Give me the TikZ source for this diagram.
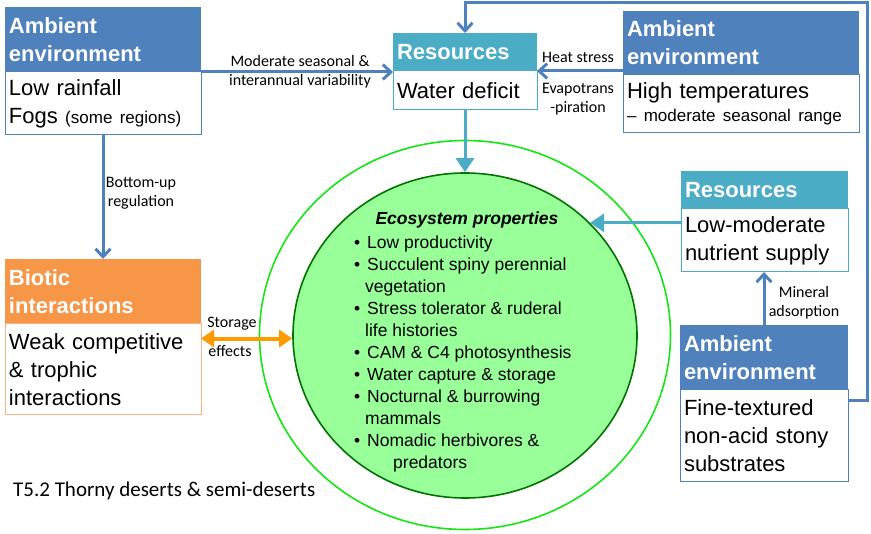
\documentclass[tikz,border=0pt]{standalone}
\usepackage{fontspec}
\setmainfont{Liberation Sans}
\newfontfamily\calibri{Carlito}
\usetikzlibrary{positioning,shapes.geometric,arrows.meta}

\definecolor{ambblue}{RGB}{79,129,189}
\definecolor{resteal}{RGB}{75,172,198}
\definecolor{bioorange}{RGB}{247,150,70}
\definecolor{bioline}{RGB}{250,180,130}
\definecolor{arroworange}{RGB}{255,153,0}
\definecolor{halogreen}{RGB}{20,230,20}
\definecolor{propfill}{RGB}{153,255,153}
\definecolor{propedge}{RGB}{0,115,0}

\tikzstyle{header} = [rectangle, anchor=north west, outer sep=0pt, inner xsep=4pt, inner ysep=0pt, align=left, text=white, font=\fontsize{22}{28}\selectfont\bfseries]
\tikzstyle{body} = [rectangle, draw, line width=1pt, fill=white, outer sep=0pt, inner xsep=4pt, inner ysep=0pt, align=left, font=\fontsize{22}{28}\selectfont]
\tikzstyle{note} = [align=center, inner sep=0pt, font=\calibri\fontsize{16}{19}\selectfont]
\tikzstyle{arrow} = [line width=3pt, ambblue, -{Straight Barb[length=8pt,width=15pt]}]
\tikzstyle{tarrow} = [line width=3pt, resteal, -{Triangle[length=14pt,width=18pt]}]
\tikzstyle{darrow} = [line width=4pt, arroworange, {Triangle[length=13pt,width=17pt]}-{Triangle[length=13pt,width=17pt]}]

\newcommand{\bul}{\makebox[13pt][l]{\textbullet}}

\begin{document}
\begin{tikzpicture}[x=1pt, y=-1pt]
    \useasboundingbox (0,0) rectangle (871,534);

    % Circles
    \node (halo) [ellipse, draw=halogreen, line width=1.6pt, minimum width=411pt, minimum height=389pt] at (465,335) {};
    \node (props) [ellipse, draw=propedge, fill=propfill, line width=1.6pt, minimum width=344pt, minimum height=325pt] at (465,335.5) {};
    \node (propsTitle) [anchor=base, inner sep=0pt, font=\fontsize{17.5}{22}\selectfont\bfseries\itshape] at (467,225) {Ecosystem properties};
    \node (propsList) [anchor=north west, align=left, inner sep=0pt, font=\fontsize{17.5}{22}\selectfont] at (354,236) {\bul Low productivity\\
        \bul Succulent spiny perennial\\
        \hspace*{11pt}vegetation\\
        \bul Stress tolerator \& ruderal\\
        \hspace*{11pt}life histories\\
        \bul CAM \& C4 photosynthesis\\
        \bul Water capture \& storage\\
        \bul Nocturnal \& burrowing\\
        \hspace*{11pt}mammals\\
        \bul Nomadic herbivores \&\\
        \hspace*{39pt}predators};

    % Boxes
    \node (ambLhead) [header, fill=ambblue, minimum width=196pt, text width=188pt, minimum height=65pt] at (5,7) {Ambient\\environment};
    \node (ambLbody) [body, draw=ambblue, below right=0pt and 0pt of ambLhead.south west, minimum width=196pt, text width=188pt, minimum height=63pt] {Low rainfall\\Fogs {\fontsize{17}{20}\selectfont(some regions)}};

    \node (resWhead) [header, fill=resteal, minimum width=144pt, text width=136pt, minimum height=38pt] at (393,33) {Resources};
    \node (resWbody) [body, draw=resteal, below right=0pt and 0pt of resWhead.south west, minimum width=144pt, text width=136pt, minimum height=39pt] {Water deficit};

    \node (ambRhead) [header, fill=ambblue, minimum width=236pt, text width=228pt, minimum height=64pt] at (623,11) {Ambient\\environment};
    \node (ambRbody) [body, draw=ambblue, below right=0pt and 0pt of ambRhead.south west, minimum width=236pt, text width=228pt, minimum height=58pt] {High temperatures\\[-5pt]{\fontsize{17}{23}\selectfont – moderate seasonal range}};

    \node (resNhead) [header, fill=resteal, minimum width=167pt, text width=159pt, minimum height=38pt] at (681,171) {Resources};
    \node (resNbody) [body, draw=resteal, below right=0pt and 0pt of resNhead.south west, minimum width=167pt, text width=159pt, minimum height=63pt] {Low-moderate\\nutrient supply};

    \node (ambBRhead) [header, fill=ambblue, minimum width=168pt, text width=160pt, minimum height=65pt] at (680,325) {Ambient\\environment};
    \node (ambBRbody) [body, draw=ambblue, below right=0pt and 0pt of ambBRhead.south west, minimum width=168pt, text width=160pt, minimum height=92pt] {Fine-textured\\non-acid stony\\substrates};

    \node (bioHead) [header, fill=bioorange, minimum width=196pt, text width=188pt, minimum height=65pt] at (5,259) {Biotic\\interactions};
    \node (bioBody) [body, draw=bioline, below right=0pt and 0pt of bioHead.south west, minimum width=196pt, text width=188pt, minimum height=91pt] {Weak competitive\\\& trophic\\interactions};

    \coordinate (loopTop) at (867,3);

    % Arrows
    \draw [arrow] (ambLbody.north east) -- (ambLbody.north east -| resWhead.west);
    \draw [arrow] (ambRhead.west |- resWbody.north east) -- (resWbody.north east);
    \draw [arrow] ([yshift=-11pt]ambBRbody.north east) -| (loopTop) -| (resWhead.north);
    \draw [arrow] (ambLbody.south) -- (bioHead.north);
    \draw [arrow] (ambBRhead.north) -- (ambBRhead.north |- resNbody.south);
    \draw [tarrow] (resWbody.south) -- (props.north);
    \draw [tarrow] (props.42.7 -| resNbody.west) -- (props.42.7);
    \draw [darrow] (props.181 -| bioBody.east) -- (props.181);

    % Labels
    \node (lblVar) [note] at (300,72) {Moderate seasonal \&\\interannual variability};
    \node (lblHeat) [note, anchor=base] at (578,63) {Heat stress};
    \node (lblEvap) [note, anchor=north] at (578,83.5) {Evapotrans\\-piration};
    \node (lblBottom) [note, anchor=north] at (141,177) {Bottom-up\\regulation};
    \node (lblMineral) [note, anchor=north] at (804,286) {Mineral\\adsorption};
    \node (lblStorage) [note, anchor=base] at (232,328) {Storage};
    \node (lblEffects) [note, anchor=base] at (230,357) {effects};
    \node (title) [anchor=base west, inner sep=0pt, font=\calibri\fontsize{21}{25}\selectfont] at (13,497) {T5.2 Thorny deserts \& semi-deserts};

\end{tikzpicture}
\end{document}
